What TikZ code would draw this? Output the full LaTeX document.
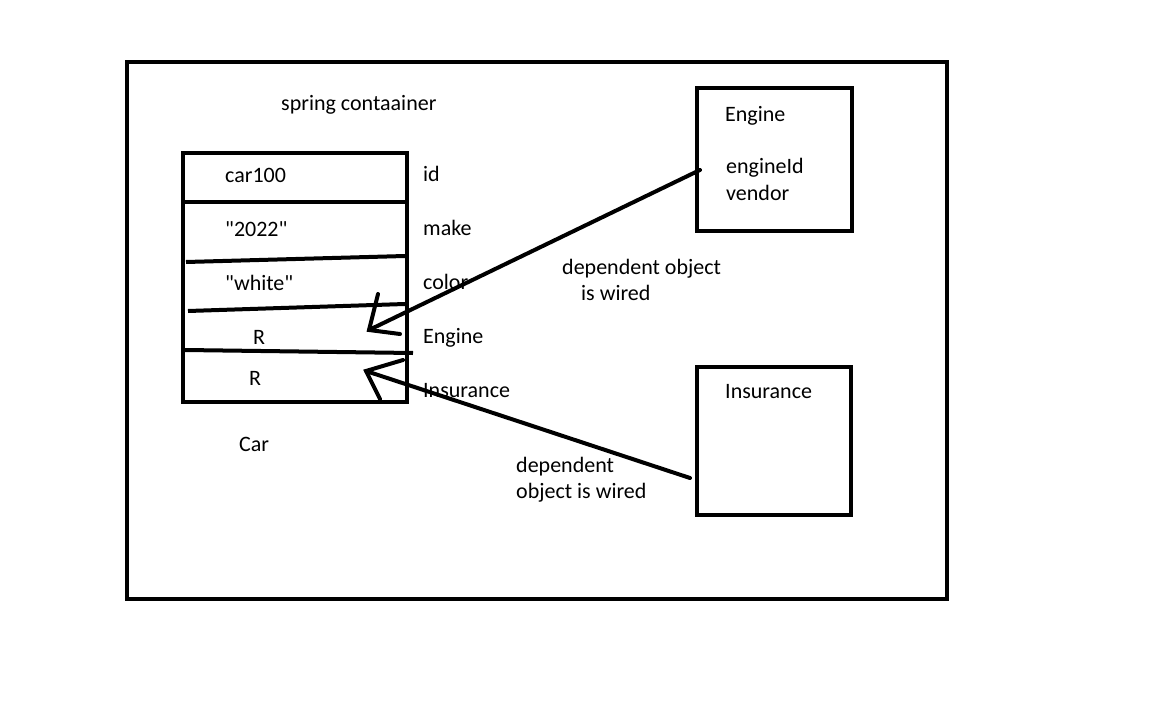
\documentclass[tikz,border=0pt]{standalone}
\usepackage{fontspec}
\setmainfont{Carlito}[Ligatures=TeXOff]
\begin{document}
\begin{tikzpicture}[x=1pt,y=-1pt,
  box/.style={draw,line width=4pt,inner sep=0pt},
  txt/.style={anchor=base west,inner sep=0pt,font=\fontsize{22}{26}\selectfont},
  stroke/.style={line width=4pt},
  wire/.style={line width=4pt,line cap=round}]
\useasboundingbox (0,0) rectangle (1152,720);
\fill[white] (0,0) rectangle (1152,720);
% outer container
\node[box,minimum width=820pt,minimum height=537pt] (cont) at (537,330.5) {};
\node[txt] (title) at (281,110) {spring contaainer};
% car box
\node[box,minimum width=224pt,minimum height=249pt] (car) at (295,277.5) {};
\draw[stroke] (183,202) -- (407,202);
\draw[stroke] (186,262) -- (405,256);
\draw[stroke] (188,311) -- (405,304);
\draw[stroke] (185,350) -- (413,353);
\node[txt] (v1) at (225,182) {car100};
\node[txt] (v2) at (225,236) {"2022"};
\node[txt] (v3) at (225,290) {"white"};
\node[txt] (v4) at (253,344) {R};
\node[txt] (v5) at (249,385) {R};
\node[txt] (l1) at (423,181) {id};
\node[txt] (l2) at (423,235) {make};
\node[txt] (l3) at (423,289) {color};
\node[txt] (l4) at (423,343) {Engine};
\node[txt] (l5) at (423,397) {Insurance};
\node[txt] (carlab) at (239,451) {Car};
% engine box
\node[box,minimum width=155pt,minimum height=143pt] (eng) at (774.5,159.5) {};
\node[txt] (e1) at (725,121) {Engine};
\node[txt] (e2) at (726,173) {engineId};
\node[txt] (e3) at (726,200) {vendor};
% insurance box
\node[box,minimum width=154pt,minimum height=148pt] (ins) at (774,441) {};
\node[txt] (i1) at (725,398) {Insurance};
% wire labels
\node[txt] (w1a) at (562,274) {dependent object};
\node[txt] (w1b) at (581,300) {is wired};
\node[txt] (w2a) at (516,472) {dependent};
\node[txt] (w2b) at (516,498) {object is wired};
% arrows
\coordinate (t1) at (369,330);
\coordinate (t1a) at (378,294);
\coordinate (t1b) at (400,334);
\coordinate (s1) at (700,170);
\draw[wire] (s1) -- (t1);
\draw[wire] (t1a) -- (t1) -- (t1b);
\coordinate (t2) at (366,371);
\coordinate (t2a) at (403,360);
\coordinate (t2b) at (380,399);
\coordinate (s2) at (690,478);
\draw[wire] (s2) -- (t2);
\draw[wire] (t2a) -- (t2) -- (t2b);
\end{tikzpicture}
\end{document}
